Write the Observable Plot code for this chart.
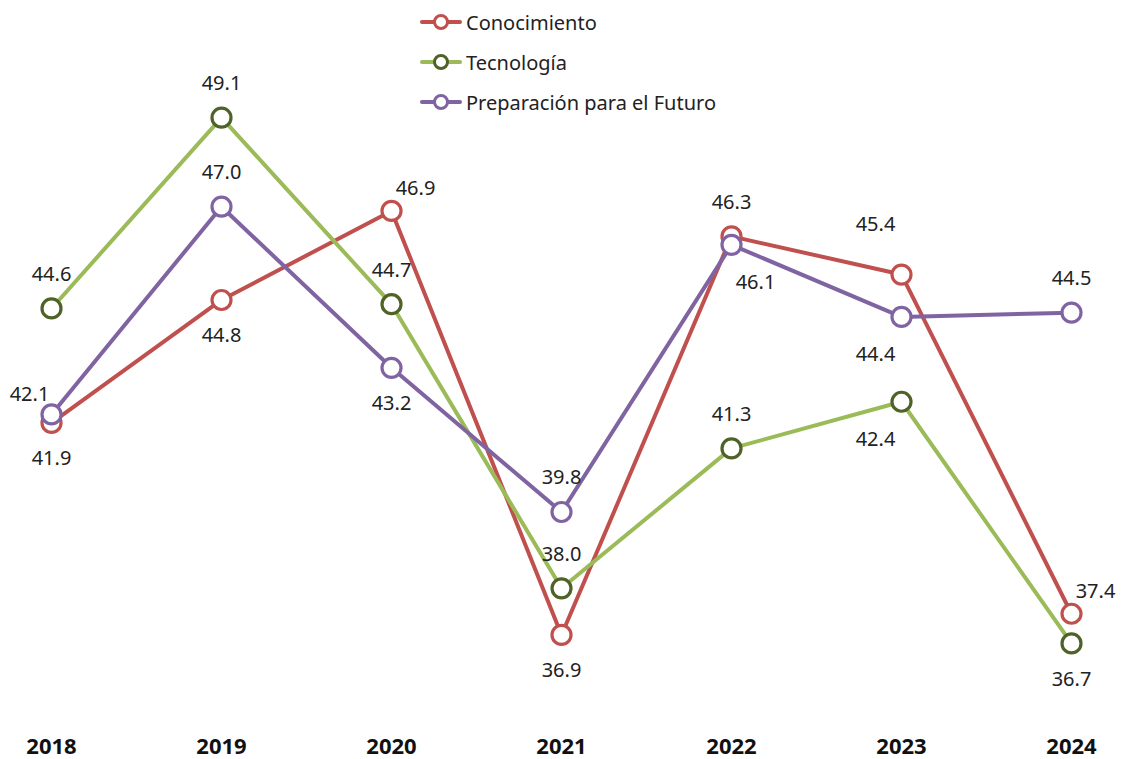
<!DOCTYPE html>
<html>
<head>
<meta charset="utf-8">
<script src="https://cdn.jsdelivr.net/npm/d3@7"></script>
<script src="https://cdn.jsdelivr.net/npm/@observablehq/plot@0.6"></script>
<style>
  html, body { margin: 0; padding: 0; background: #fff; }
  #wrap { position: relative; width: 1127px; height: 759px; font-family: "Noto Sans", "Open Sans", sans-serif; }
  #legend { position: absolute; left: 420px; top: 2px; }
  .item { display: flex; align-items: center; height: 40px; font-size: 20px; color: #222; }
  .item svg { margin-right: 4px; }
</style>
</head>
<body>
<div id="wrap"><div id="legend"></div><div id="chart"></div></div>
<script>
const years = ["2018", "2019", "2020", "2021", "2022", "2023", "2024"];
const seriesNames = ["Conocimiento", "Tecnología", "Preparación para el Futuro"];
const conocimiento = [41.9, 44.8, 46.9, 36.9, 46.3, 45.4, 37.4];
const tecnologia = [44.6, 49.1, 44.7, 38.0, 41.3, 42.4, 36.7];
const preparacion = [42.1, 47.0, 43.2, 39.8, 46.1, 44.4, 44.5];
const lineColors = ["#C0504D", "#9BBB59", "#8064A2"];
const markerColors = ["#C0504D", "#4F6228", "#8064A2"];
// label placement per point
const placeCon = ["below", "below", "aboveRight", "below", "above", "aboveLeft", "aboveRight"];
const placeTec = ["above", "above", "above", "above", "above", "belowLeft", "below"];
const placePre = ["left", "above", "below", "above", "belowRight", "belowLeft", "above"];

const offsets = {
  above: [0, -34], below: [0, 36],
  aboveRight: [24, -22], aboveLeft: [-26, -50],
  belowRight: [24, 38], belowLeft: [-26, 38],
  left: [-22, -20]
};

const allValues = [conocimiento, tecnologia, preparacion];
const allPlaces = [placeCon, placeTec, placePre];

const marks = [];
allValues.forEach((vals, si) => {
  const data = years.map((y, i) => ({year: y, value: vals[i], place: allPlaces[si][i]}));
  marks.push(Plot.line(data, {x: "year", y: "value", stroke: lineColors[si], strokeWidth: 4}));
  marks.push(Plot.dot(data, {x: "year", y: "value", r: 9.5, fill: "white", stroke: markerColors[si], strokeWidth: 3.2}));
});
allValues.forEach((vals, si) => {
  const data = years.map((y, i) => ({year: y, value: vals[i], place: allPlaces[si][i]}));
  Object.keys(offsets).forEach(p => {
    marks.push(Plot.text(data.filter(d => d.place === p), {
      x: "year", y: "value", text: d => d.value.toFixed(1),
      dx: offsets[p][0], dy: offsets[p][1], fontSize: 20, fill: "#222"
    }));
  });
});

const chart = Plot.plot({
  width: 1127, height: 759,
  marginLeft: 51, marginRight: 56, marginTop: 79, marginBottom: 44,
  style: {fontFamily: "Noto Sans, Open Sans, sans-serif", background: "white"},
  x: {type: "point", domain: years, padding: 0},
  y: {domain: [35, 50], axis: null},
  marks: [
    Plot.axisX({tickSize: 0, tickPadding: 23, fontSize: 22, fontWeight: "bold", fill: "#111", label: null}),
    ...marks
  ]
});
document.getElementById("chart").appendChild(chart);

const legend = document.getElementById("legend");
seriesNames.forEach((name, i) => {
  const div = document.createElement("div");
  div.className = "item";
  div.innerHTML = `<svg width="42" height="20"><line x1="2" y1="10" x2="40" y2="10" stroke="${lineColors[i]}" stroke-width="4" stroke-linecap="round"/><circle cx="21" cy="10" r="6.5" fill="white" stroke="${markerColors[i]}" stroke-width="3"/></svg><span>${name}</span>`;
  legend.appendChild(div);
});
</script>
</body>
</html>
